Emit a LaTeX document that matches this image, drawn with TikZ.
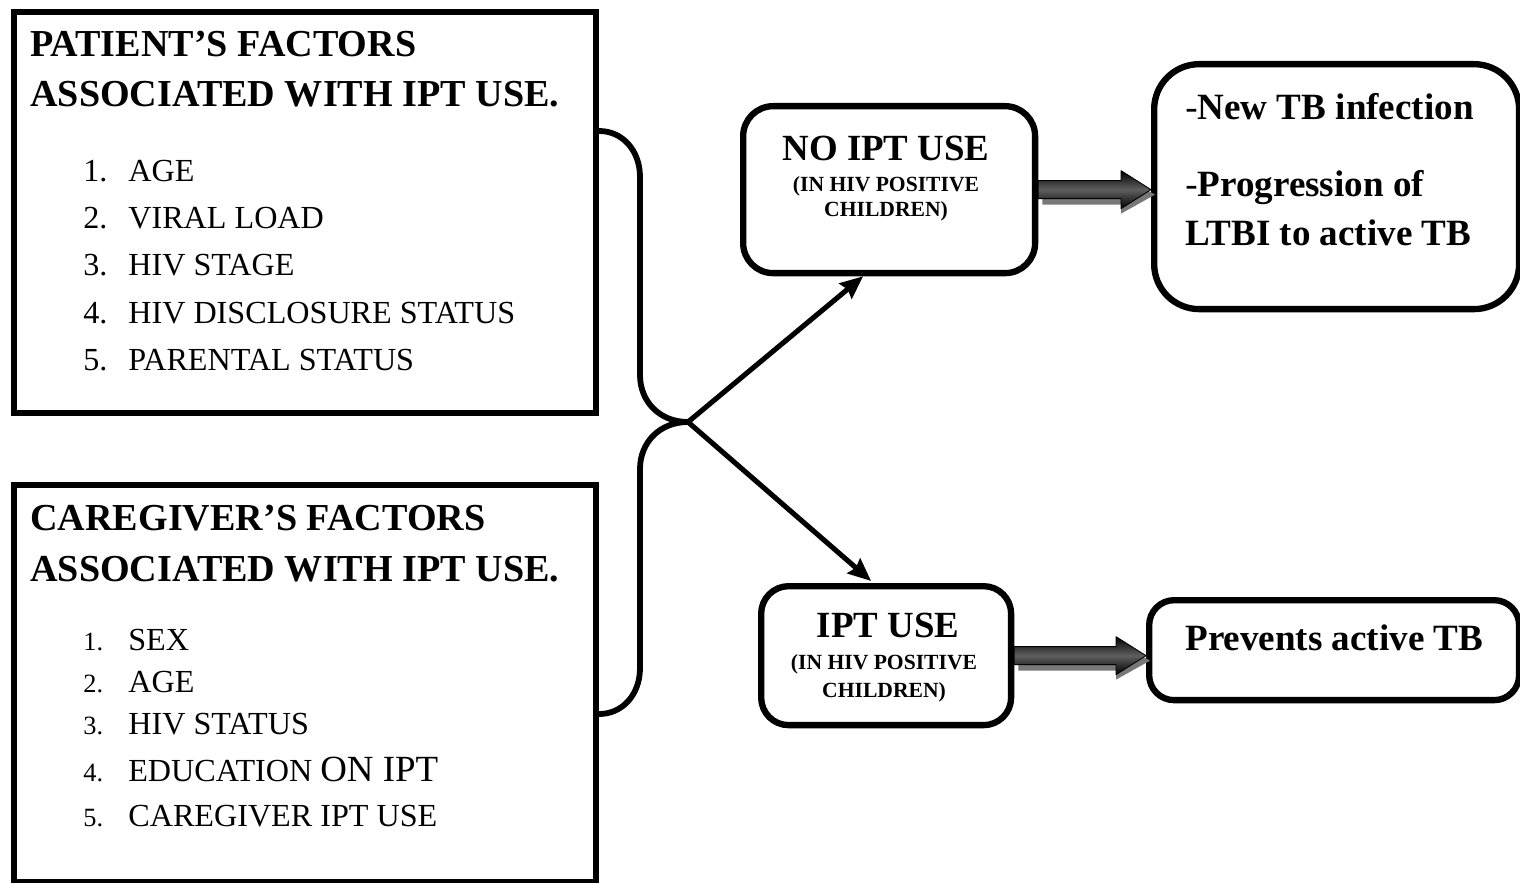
\documentclass[tikz,border=0pt]{standalone}
\usepackage{fontspec}
\setmainfont{Liberation Serif}
\usetikzlibrary{arrows.meta,calc,positioning}

\begin{document}
\begin{tikzpicture}[x=0.02cm,y=-0.02cm,line cap=round,line join=round]
  % ----- styles & colors -----
    \definecolor{shaftshadow}{RGB}{120,120,120}  % gray
    \definecolor{shaftmid}{RGB}{95,95,95}       % gray highlight
  \tikzset{
    factorbox/.style={draw=black,line width=3.6pt,line join=miter,anchor=north west,inner sep=0pt},
    usebox/.style={draw=black,line width=3.6pt,anchor=north west,inner sep=0pt},
    headtext/.style={anchor=base west,inner sep=0pt,font=\fontsize{21.7}{28}\selectfont\bfseries},
    itemtext/.style={anchor=base west,inner sep=0pt,font=\fontsize{18.3}{22}\selectfont},
    smallnum/.style={anchor=base west,inner sep=0pt,font=\fontsize{15}{18}\selectfont},
    bigtext/.style={anchor=base,inner sep=0pt,font=\fontsize{21}{26}\selectfont\bfseries},
    smalltext/.style={anchor=base,inner sep=0pt,font=\fontsize{12.3}{14}\selectfont\bfseries},
    outtext/.style={anchor=base west,inner sep=0pt,font=\fontsize{21.1}{28}\selectfont},
    brace/.style={draw=black,line width=3.3pt},
    arr/.style={draw=black,line width=2.9pt,-{Stealth[length=13pt,width=11pt,inset=1.5pt]}}
  }

  \useasboundingbox (0,0) rectangle (1520,882);

  % ----- the two factor boxes -----
  \node[factorbox,minimum width=11.64cm,minimum height=8.02cm] (patient) at (11,9) {};
  \node[factorbox,minimum width=11.64cm,minimum height=7.94cm] (caregiver) at (11,482) {};

  \node[headtext] (ptitle1) at (30,57) {PATIENT’S FACTORS};
  \node[headtext] (ptitle2) at (30,107) {ASSOCIATED WITH IPT USE.};
  \node[headtext] (ctitle1) at (30,530) {CAREGIVER’S FACTORS};
  \node[headtext] (ctitle2) at (30,581) {ASSOCIATED WITH IPT USE.};

  \foreach \y/\txt [count=\i] in {181/AGE, 228/VIRAL LOAD, 275/HIV STAGE,
                                  323/HIV DISCLOSURE STATUS, 370/PARENTAL STATUS}{
    \node[itemtext] (pnum\i) at (83,\y) {\i.};
    \node[itemtext] (pitem\i) at (128,\y) {\txt};
  }

  \foreach \y/\txt [count=\i] in {650/SEX, 692/AGE, 734/HIV STATUS,
                                  781/{EDUCATION {\fontsize{21}{24}\selectfont ON IPT}},
                                  826/CAREGIVER IPT USE}{
    \node[smallnum] (cnum\i) at (83,\y) {\i.};
    \node[itemtext] (citem\i) at (128,\y) {\txt};
  }

  % ----- IPT use boxes -----
  \node[usebox,rounded corners=0.6cm,minimum width=5.84cm,minimum height=3.34cm] (noipt) at (740,103) {};
  \node[bigtext] (noipttitle) at (886,160) {NO IPT USE};
  \node[smalltext] (noiptsub1) at (886,191) {(IN HIV POSITIVE};
  \node[smalltext] (noiptsub2) at (886,216) {CHILDREN)};

  \node[usebox,rounded corners=0.55cm,minimum width=5.0cm,minimum height=2.78cm] (ipt) at (758,583) {};
  \node[bigtext] (ipttitle) at (888,637) {IPT USE};
  \node[smalltext] (iptsub1) at (884,669) {(IN HIV POSITIVE};
  \node[smalltext] (iptsub2) at (884,697) {CHILDREN)};

  % ----- outcome boxes -----
  \node[usebox,rounded corners=0.9cm,minimum width=7.3cm,minimum height=4.9cm] (tbrisk) at (1151,61) {};
  \node[outtext] (newtb) at (1185,119) {-\textbf{New TB infection}};
  \node[outtext] (progress1) at (1185,196) {-\textbf{Progression of}};
  \node[outtext] (progress2) at (1185,245) {\textbf{LTBI to active TB}};

  \node[usebox,rounded corners=0.5cm,minimum width=7.4cm,minimum height=2.0cm] (prevent) at (1146,597) {};
  \node[outtext] (preventtxt) at (1185,650) {\textbf{Prevents active TB}};

  % ----- brace joining the factor boxes -----
  \coordinate (hub) at (688,422);
  \draw[brace] (patient.north east |- 0,131) .. controls (622,131) and (640,150) .. (640,177)
    -- (640,375) .. controls (640,402) and (660,422) .. (hub)
    .. controls (660,422) and (640,442) .. (640,469)
    -- (640,668) .. controls (640,695) and (622,714) .. (caregiver.north east |- 0,714);

  % ----- arrows out of the hub -----
  \draw[arr] (hub) -- ($(noipt.south)+(-26,0)$);
  \draw[arr] (hub) -- ($(ipt.north)+(-15,-2)$);

  % ----- block arrows to the outcomes -----
  \foreach \from/\to in {noipt/tbrisk, ipt/prevent}{
    \path (\from.east) coordinate (s) (\to.west |- \from.east) coordinate (t);
    \fill[shaftshadow] ($(s)+(4,-5)$) -- ($(t)+(-30,-5)$) -- ($(t)+(-30,-14)$)
      -- ($(t)+(4,5)$) -- ($(t)+(-30,24)$) -- ($(t)+(-30,15)$) -- ($(s)+(4,15)$) -- cycle;
    \shade[top color=black,bottom color=black,middle color=shaftmid,draw=black,line width=0.5pt]
      ($(s)+(0,-9)$) -- ($(t)+(-30,-9)$) -- ($(t)+(-30,-19)$)
      -- (t) -- ($(t)+(-30,19)$) -- ($(t)+(-30,9)$) -- ($(s)+(0,9)$) -- cycle;
  }
\end{tikzpicture}
\end{document}
